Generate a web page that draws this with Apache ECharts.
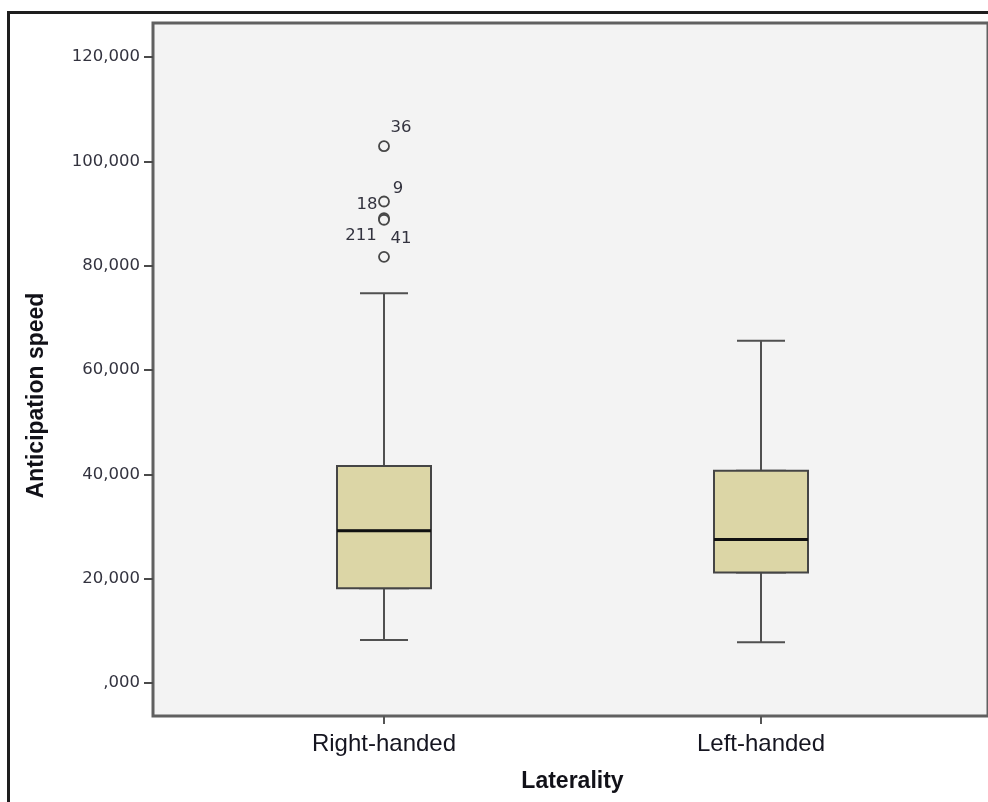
<!DOCTYPE html>
<html><head><meta charset="utf-8">
<script src="https://cdn.jsdelivr.net/npm/echarts@6/dist/echarts.min.js"></script>
<style>html,body{margin:0;padding:0;background:#fff}#c{width:988px;height:802px}</style>
</head><body><div id="c"></div>
<script>
// ---- data ----
const categories = ['Right-handed', 'Left-handed'];
const lowerWhisker = [8240, 7800];
const q1 = [18150, 21200];
const median = [29200, 27500];
const q3 = [41600, 40700];
const upperWhisker = [74700, 65600];
const outlierCategory = [0, 0, 0, 0, 0];
const outlierValues = [102900, 92300, 89100, 88800, 81700];
const outlierIds = ['36', '9', '18', '211', '41'];
const yTickValues = [0, 20000, 40000, 60000, 80000, 100000, 120000];
const yTickLabels = [',000', '20,000', '40,000', '60,000', '80,000', '100,000', '120,000'];
const yAxisMin = -6326;
const yAxisMax = 126518;

// ---- styles ----
const labelOffsets = [[17, -18], [14, -13], [-17, -13], [-23, 16], [17, -18]];
const boxFill = '#dcd6a6';
const tickFont = 'DejaVu Sans';

const chart = echarts.init(document.getElementById('c'), null, {renderer: 'canvas'});

const whiskerData = categories.map((c, i) => [lowerWhisker[i], q1[i], median[i], q3[i], upperWhisker[i]]);
const boxData = categories.map((c, i) => [q1[i], q1[i], median[i], q3[i], q3[i]]);
const medianData = categories.map((c, i) => [median[i], median[i], median[i], median[i], median[i]]);
const outlierData = outlierValues.map((v, i) => ({
  value: [outlierCategory[i], v],
  label: {offset: labelOffsets[i]}
}));

const hiddenCat = () => ({gridIndex: 1, type: 'category', data: categories, show: false, boundaryGap: true,
  axisLine: {show: false, onZero: false}});

const option = {
  animation: false,
  backgroundColor: '#ffffff',
  graphic: [{
    type: 'rect', z: 100, silent: true,
    shape: {x: 8.5, y: 12.5, width: 1100, height: 1100},
    style: {fill: 'none', stroke: '#1e1e1e', lineWidth: 3}
  }],
  grid: [
    {left: 153, top: 23, right: -8, bottom: 86, show: true,
     backgroundColor: '#f3f3f3', borderColor: '#606060', borderWidth: 3},
    {left: 195.5, right: 38.5, top: 23, bottom: 86}
  ],
  xAxis: [
    {gridIndex: 0, type: 'value', show: false, min: 0, max: 1, axisLine: {show: false, onZero: false}},
    {gridIndex: 1, type: 'category', data: categories, boundaryGap: true, position: 'bottom',
     axisLine: {show: false, onZero: false},
     axisTick: {show: true, alignWithLabel: true, length: 8, lineStyle: {color: '#555', width: 2}},
     axisLabel: {margin: 16, color: '#151520', fontFamily: 'Liberation Sans', fontSize: 24},
     name: 'Laterality', nameLocation: 'middle', nameGap: 54,
     nameTextStyle: {fontFamily: 'Liberation Sans', fontWeight: 'bold', fontSize: 23, color: '#111118'}},
    hiddenCat(), hiddenCat(), hiddenCat()
  ],
  yAxis: [
    {gridIndex: 0, type: 'value', min: yAxisMin, max: yAxisMax,
     axisLine: {show: false, onZero: false},
     axisTick: {show: true, length: 9, customValues: yTickValues, lineStyle: {color: '#4a4a4a', width: 2}},
     splitLine: {show: false},
     axisLabel: {margin: 13, color: '#33333f', fontFamily: tickFont, fontSize: 16.5, customValues: yTickValues,
       formatter: (v) => { const k = yTickValues.indexOf(v); return k >= 0 ? yTickLabels[k] : ''; }},
     name: 'Anticipation speed', nameLocation: 'middle', nameGap: 105,
     nameTextStyle: {fontFamily: 'Liberation Sans', fontWeight: 'bold', fontSize: 23, color: '#111118',
       padding: [0, 52, 0, 0]}},
    {gridIndex: 1, type: 'value', min: yAxisMin, max: yAxisMax, show: false, axisLine: {show: false, onZero: false}}
  ],
  series: [
    {type: 'boxplot', xAxisIndex: 2, yAxisIndex: 1, boxWidth: [48, 48], data: whiskerData, silent: true,
     itemStyle: {color: boxFill, borderColor: '#505050', borderWidth: 2}},
    {type: 'boxplot', xAxisIndex: 3, yAxisIndex: 1, boxWidth: [94, 94], data: boxData, silent: true,
     itemStyle: {color: boxFill, borderColor: '#454545', borderWidth: 2}},
    {type: 'boxplot', xAxisIndex: 4, yAxisIndex: 1, boxWidth: [94, 94], data: medianData, silent: true,
     itemStyle: {color: boxFill, borderColor: '#111111', borderWidth: 3}},
    {type: 'scatter', xAxisIndex: 1, yAxisIndex: 1, data: outlierData, silent: true,
     symbol: 'circle', symbolSize: 10,
     itemStyle: {color: '#f3f3f3', borderColor: '#474747', borderWidth: 1.8, opacity: 1},
     label: {show: true, position: 'inside', color: '#33333f', fontFamily: tickFont, fontSize: 16.5,
       formatter: (p) => outlierIds[p.dataIndex]}}
  ]
};
chart.setOption(option);
</script></body></html>
